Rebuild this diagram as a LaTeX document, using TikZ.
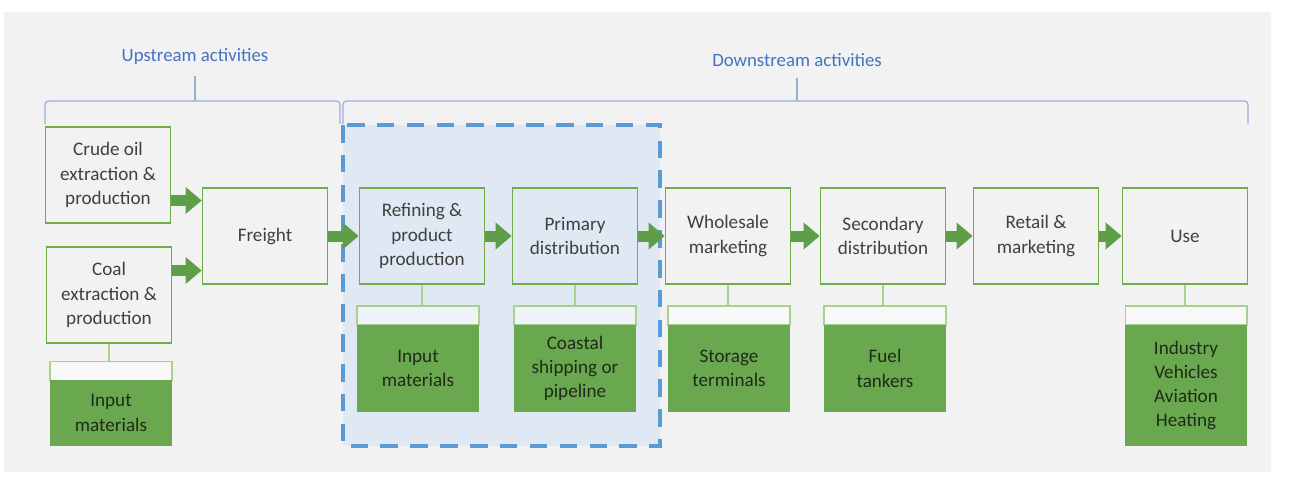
\documentclass[tikz,border=0pt]{standalone}
\usepackage{fontspec}
\setmainfont{Carlito}
\usetikzlibrary{arrows.meta}
\definecolor{stagegreen}{HTML}{70AD47}
\definecolor{fillgreen}{HTML}{6AA84F}
\definecolor{arrowgreen}{HTML}{5E9E48}
\definecolor{tabgreen}{HTML}{A9D18E}
\definecolor{headblue}{HTML}{4472C4}
\definecolor{bracelilac}{HTML}{9AAEDC}
\definecolor{dashblue}{HTML}{5B9BD5}
\definecolor{regionblue}{HTML}{DFE8F3}
\definecolor{panelgray}{HTML}{F2F2F2}
\definecolor{textgray}{HTML}{404040}
\definecolor{darktext}{HTML}{1F2A1A}

\begin{document}
\begin{tikzpicture}[x=0.02cm, y=-0.02cm,
	stage/.style={draw=stagegreen, line width=1pt, minimum width=2.5cm, minimum height=1.92cm,
		inner sep=0pt, align=center, text=textgray, font=\fontsize{10.9}{13.8}\selectfont},
	detail/.style={fill=fillgreen, minimum width=2.44cm, inner sep=0pt, align=center,
		text=darktext, font=\fontsize{10.9}{13.8}\selectfont},
	tab/.style={draw=tabgreen, fill=white, fill opacity=0.5, line width=0.6pt, minimum width=2.44cm,
		minimum height=0.38cm, inner sep=0pt},
	stem/.style={draw=tabgreen, line width=0.6pt},
	flow/.style={draw=arrowgreen, line width=0.22cm, -{Triangle[length=0.32cm,width=0.52cm]}},
	brace/.style={draw=bracelilac, line width=0.7pt, rounded corners=2pt},
	heading/.style={text=headblue, font=\fontsize{10.7}{13}\selectfont}]
	\useasboundingbox (0,0) rectangle (1290,480);
	\fill[panelgray] (4,12) rectangle (1271,472);
	
	%dashed refinery region
	\draw[dashblue, fill=regionblue, line width=2.2pt, dash pattern=on 10pt off 7pt]
		(343,125) rectangle (660,446);
	
	%upstream brace
	\node[heading] (uplabel) at (195,57) {Upstream activities};
	\draw[brace] (45,124) -- (45,101) -- (340,101) -- (340,124);
	\draw[brace] (195,101) -- (195,76);
	%downstream brace
	\node[heading] (downlabel) at (797,60) {Downstream activities};
	\draw[brace] (343,124) -- (343,101) -- (1248,101) -- (1248,124);
	\draw[brace] (797,101) -- (797,78);
	
	%stages
	\node[stage] (crude) at (108,175) {Crude oil\\extraction \&\\production};
	\node[stage] (coal) at (109,295) {Coal\\extraction \&\\production};
	\node[stage] (freight) at (265,236) {Freight};
	\node[stage] (refining) at (422,236) {Refining \&\\product\\production};
	\node[stage] (primary) at (575,236) {Primary\\distribution};
	\node[stage] (wholesale) at (728,236) {Wholesale\\marketing};
	\node[stage] (secondary) at (883,236) {Secondary\\distribution};
	\node[stage] (retail) at (1036,236) {Retail \&\\marketing};
	\node[stage] (use) at (1185,236) {Use};
	
	%details below the stages
	\node[tab] (tabA) at (111,371) {};
	\node[detail, minimum height=1.32cm] (inputA) at (111,413) {Input\\materials};
	\node[tab] (tabB) at (418,315.5) {};
	\node[detail, minimum height=1.74cm] (inputB) at (418,368.5) {Input\\materials};
	\node[tab] (tabC) at (575,315.5) {};
	\node[detail, minimum height=1.74cm] (coastal) at (575,368.5) {Coastal\\shipping or\\pipeline};
	\node[tab] (tabD) at (729,315.5) {};
	\node[detail, minimum height=1.74cm] (storage) at (729,368.5) {Storage\\terminals};
	\node[tab] (tabE) at (885,315.5) {};
	\node[detail, minimum height=1.74cm] (tankers) at (885,368.5) {Fuel\\tankers};
	\node[tab] (tabF) at (1186,315.5) {};
	\node[detail, minimum height=2.42cm] (enduse) at (1186,385.5) {Industry\\Vehicles\\Aviation\\Heating};
	
	\foreach \s/\t in {coal/tabA, refining/tabB, primary/tabC, wholesale/tabD, secondary/tabE, use/tabF}
		\draw[stem] (\s.south) -- (\s.south |- \t.north);
	
	%flow arrows
	\coordinate (fromcrude) at ([yshift=-0.51cm]crude.east);
	\coordinate (fromcoal) at ([yshift=0.49cm]coal.east);
	\draw[flow] (fromcrude) -- (fromcrude -| freight.west);
	\draw[flow] (fromcoal) -- (fromcoal -| freight.west);
	\foreach \a/\b in {freight/refining, refining/primary, primary/wholesale,
		wholesale/secondary, secondary/retail, retail/use}
		\draw[flow] (\a) -- (\b);
\end{tikzpicture}
\end{document}
